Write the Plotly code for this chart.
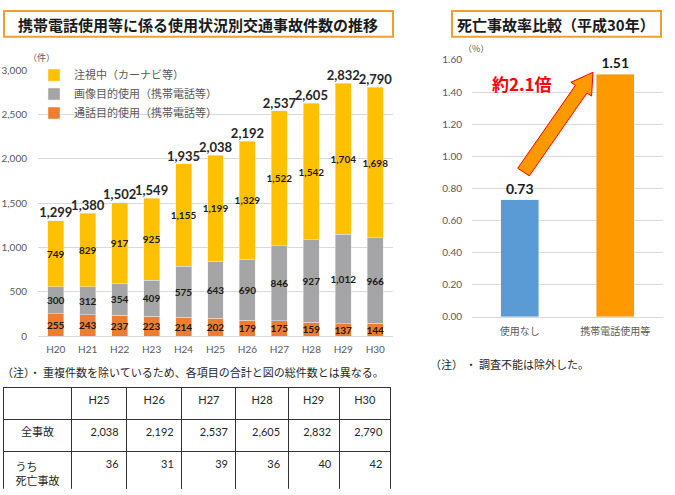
import math
import plotly.graph_objects as go

W, H = 675, 495

# ---------------- data ----------------
years = ["H20", "H21", "H22", "H23", "H24", "H25", "H26", "H27", "H28", "H29", "H30"]
call_use = [255, 243, 237, 223, 214, 202, 179, 175, 159, 137, 144]          # 通話目的使用
image_use = [300, 312, 354, 409, 575, 643, 690, 846, 927, 1012, 966]        # 画像目的使用
watching = [749, 829, 917, 925, 1155, 1199, 1329, 1522, 1542, 1704, 1698]   # 注視中
totals = [1299, 1380, 1502, 1549, 1935, 2038, 2192, 2537, 2605, 2832, 2790]

rate_cats = ["使用なし", "携帯電話使用等"]
rate_vals = [0.73, 1.51]

table_years = ["H25", "H26", "H27", "H28", "H29", "H30"]
table_all = [2038, 2192, 2537, 2605, 2832, 2790]
table_fatal = [36, 31, 39, 36, 40, 42]

# ---------------- helpers ----------------
def px(x):
    return x / W

def py(y):
    return 1 - y / H

NUM = "Lato, Noto Sans CJK JP, sans-serif"
JP = "Noto Sans CJK JP, sans-serif"
GRAY = "#595959"
GRID = "#D9D9D9"

fig = go.Figure()

seg_font = dict(size=10, color="#1a1a1a", family=NUM, weight="bold")
for vals, name, color in [(call_use, "通話目的使用（携帯電話等）", "#ED7D31"),
                          (image_use, "画像目的使用（携帯電話等）", "#A5A5A5"),
                          (watching, "注視中（カーナビ等）", "#FFC000")]:
    fig.add_trace(go.Bar(x=years, y=vals, name=name, marker_color=color,
                         texttemplate="%{y:,}", textposition="inside", textangle=0,
                         insidetextanchor="middle", constraintext="none",
                         textfont=seg_font, xaxis="x", yaxis="y"))

stack_top = [a + b + c for a, b, c in zip(call_use, image_use, watching)]
fig.add_trace(go.Scatter(x=years, y=stack_top, mode="text",
                         text=[f"{v:,}" for v in totals], textposition="top center",
                         textfont=dict(size=13, color="#262626", family=NUM, weight="bold"),
                         showlegend=False, cliponaxis=False, xaxis="x", yaxis="y"))

# right bars
fig.add_trace(go.Bar(x=rate_cats, y=rate_vals, marker_color=["#5B9BD5", "#FF9900"],
                     width=0.4, texttemplate="%{y:.2f}", textposition="outside",
                     cliponaxis=False, textangle=0,
                     textfont=dict(size=14, color="#1a1a1a", family=NUM, weight="bold"),
                     showlegend=False, xaxis="x2", yaxis="y2"))

# table
fig.add_trace(go.Table(
    domain=dict(x=[px(3.3), px(390.5)], y=[py(495), py(391)]),
    columnwidth=[68, 55, 55, 54, 52, 51, 51],
    header=dict(values=[""] + table_years, height=32, align="center",
                fill_color="white", line=dict(color="#333333", width=1),
                font=dict(size=11, color="#262626", family=NUM)),
    cells=dict(values=[["全事故", "うち<br>死亡事故"]] +
                      [[f"{a:,}", f"{f:,}"] for a, f in zip(table_all, table_fatal)],
               height=32, align=["center"] + ["right"] * 6,
               fill_color="white", line=dict(color="#333333", width=1),
               font=dict(size=11, color="#262626", family=NUM)),
))

shapes = []
annotations = []

def note(x, y, text, size, color="#262626", family=JP, weight="normal", xanchor="center"):
    annotations.append(dict(xref="paper", yref="paper", x=px(x), y=py(y), text=text,
                            xanchor=xanchor, yanchor="middle", showarrow=False,
                            font=dict(size=size, color=color, family=family, weight=weight)))

# title boxes
shapes.append(dict(type="rect", xref="paper", yref="paper", x0=px(4), x1=px(393),
                   y0=py(30.5), y1=py(4), line=dict(color="#F0A030", width=2),
                   fillcolor="white", layer="below"))
note(198, 17.5, "携帯電話使用等に係る使用状況別交通事故件数の推移", 15, "#1a1a1a", weight="bold")
shapes.append(dict(type="rect", xref="paper", yref="paper", x0=px(452), x1=px(661),
                   y0=py(30.5), y1=py(4), line=dict(color="#F0A030", width=2),
                   fillcolor="white", layer="below"))
note(556, 17.5, "死亡事故率比較（平成30年）", 15, "#1a1a1a", weight="bold")

# unit labels
note(41, 52, "（件）", 9, GRAY)
note(476, 43, "（%）", 9, GRAY)

# arrow polygon
T = (523.5, 169.5)
P = (593.0, 67.0)
dx, dy = P[0] - T[0], P[1] - T[1]
L = math.hypot(dx, dy)
u = (dx / L, dy / L)
n = (-u[1], u[0])
hl, hw, sw = 21, 12.5, 7
S = (P[0] - hl * u[0], P[1] - hl * u[1])
pts = [
    (T[0] + sw * n[0], T[1] + sw * n[1]),
    (S[0] + sw * n[0], S[1] + sw * n[1]),
    (S[0] + hw * n[0], S[1] + hw * n[1]),
    P,
    (S[0] - hw * n[0], S[1] - hw * n[1]),
    (S[0] - sw * n[0], S[1] - sw * n[1]),
    (T[0] - sw * n[0], T[1] - sw * n[1]),
]
path = "M " + " L ".join(f"{px(x):.5f},{py(y):.5f}" for x, y in pts) + " Z"
shapes.append(dict(type="path", xref="paper", yref="paper", path=path,
                   fillcolor="#FF9900", line=dict(color="#FF0000", width=1)))
note(522, 79, "約2.1倍", 17, "#FF0000", weight="bold")

# notes
note(0, 375, "（注）・ 重複件数を除いているため、各項目の合計と図の総件数とは異なる。", 11,
     xanchor="left")
note(428, 367, "（注） ・ 調査不能は除外した。", 11, xanchor="left")

fig.update_layout(
    width=W, height=H, margin=dict(l=0, r=0, t=0, b=0, pad=0),
    paper_bgcolor="white", plot_bgcolor="white",
    barmode="stack", bargap=0.5,
    shapes=shapes, annotations=annotations,
    legend=dict(x=px(34), y=py(55), xanchor="left", yanchor="top",
                traceorder="reversed", bgcolor="rgba(0,0,0,0)",
                font=dict(size=11, color=GRAY, family=JP), tracegroupgap=0),
    xaxis=dict(domain=[px(38), px(393)], anchor="y", showgrid=False,
               showline=True, linecolor=GRID, linewidth=1, ticks="",
               ticklabelstandoff=4,
               tickfont=dict(size=10, color=GRAY, family=NUM)),
    yaxis=dict(domain=[py(338), py(65)], anchor="x", range=[0, 3000], dtick=500,
               tickformat=",", showgrid=True, gridcolor=GRID, zeroline=False,
               ticks="", ticklabelstandoff=10,
               tickfont=dict(size=10, color=GRAY, family=NUM)),
    xaxis2=dict(domain=[px(472), px(663)], anchor="y2", showgrid=False,
                showline=True, linecolor=GRID, linewidth=1, ticks="",
                ticklabelstandoff=5,
                tickfont=dict(size=10, color=GRAY, family=JP)),
    yaxis2=dict(domain=[py(318.3), py(54.3)], anchor="x2", range=[0, 1.6], dtick=0.2,
                tickformat=".2f", showgrid=True, gridcolor=GRID, zeroline=False,
                ticks="", ticklabelstandoff=9,
                tickfont=dict(size=10, color=GRAY, family=NUM)),
)

fig.write_html("out.html", config={"displayModeBar": False},
               post_script="document.body.style.margin='0';document.body.style.overflow='hidden';")
